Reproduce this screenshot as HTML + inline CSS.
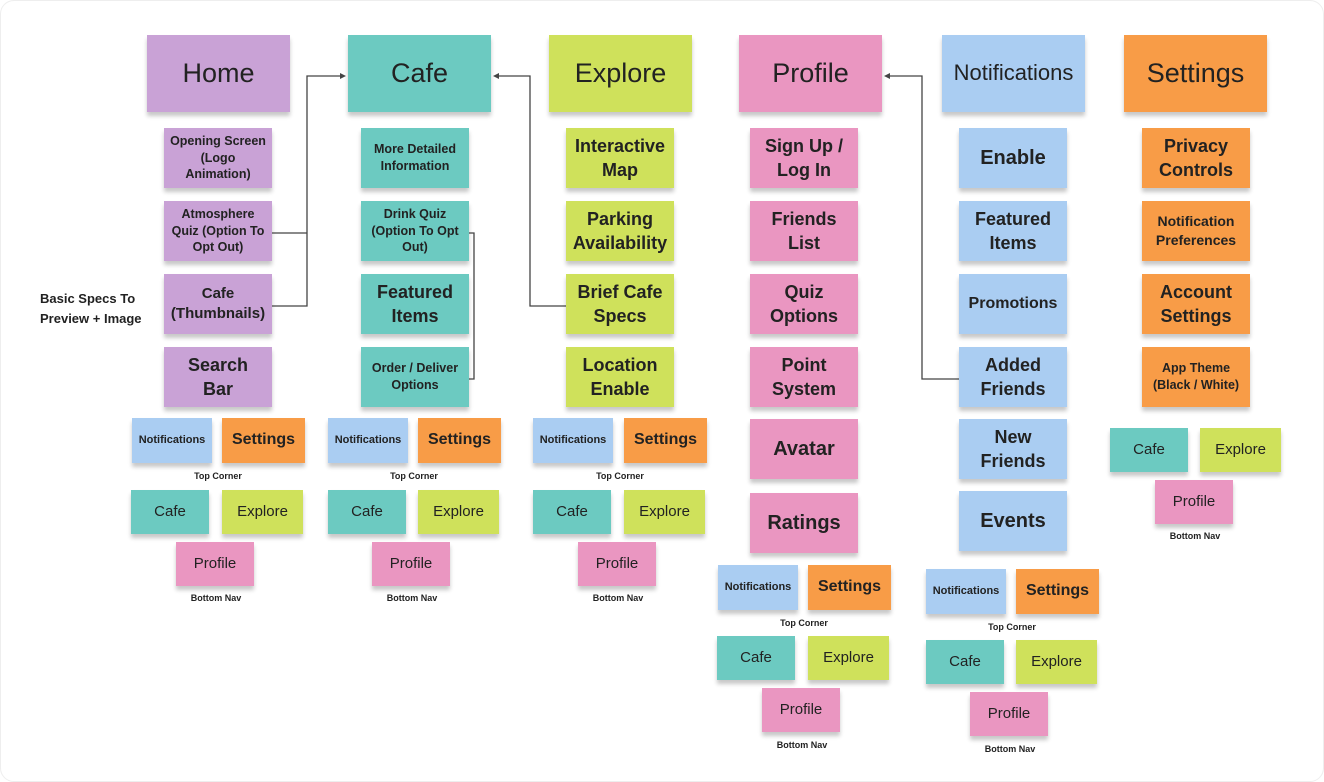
<!DOCTYPE html>
<html><head><meta charset="utf-8"><style>
body{margin:0;width:1324px;height:782px;background:#fff;position:relative;overflow:hidden;font-family:"Liberation Sans",sans-serif;}
.b{position:absolute;display:flex;align-items:center;justify-content:center;text-align:center;color:#222;box-shadow:0 4px 4px rgba(0,0,0,.22);line-height:1.3;}
.h{width:143px;height:77px;font-size:27px;}
.s{width:108px;height:60px;font-size:18px;font-weight:bold;line-height:1.35;}
.sm{font-size:12.5px;}
.n{font-size:11px;font-weight:bold;width:80px;height:45px;}
.st{font-size:16px;font-weight:bold;width:83px;height:45px;}
.c{font-size:15px;width:78px;height:44px;}
.e{font-size:15px;width:81px;height:44px;}
.p{font-size:15px;width:78px;height:44px;}
.P{background:#c9a2d6}.T{background:#6ccac1}.G{background:#cfe15b}.K{background:#ea96c1}.B{background:#aacdf2}.O{background:#f89c47}
.l{position:absolute;font-size:9px;font-weight:bold;color:#222;width:100px;text-align:center;}
</style></head><body>
<div style="position:absolute;left:0;top:0;width:1322px;height:780px;border:1px solid #eee;border-radius:14px"></div>
<svg width="1324" height="782" style="position:absolute;left:0;top:0">
<g stroke="#444" stroke-width="1.3" fill="none">
<path d="M272 233H307M272 306H307V76H342"/>
<path d="M469 233H474V379H469"/>
<path d="M566 306H530V76H497"/>
<path d="M959 379H922V76H888"/>
</g>
<g fill="#444"><path d="M346 76l-6-3v6z"/><path d="M493 76l6-3v6z"/><path d="M884 76l6-3v6z"/></g>
</svg>
<div class="b h P" style="left:147px;top:35px">Home</div>
<div class="b h T" style="left:348px;top:35px">Cafe</div>
<div class="b h G" style="left:549px;top:35px">Explore</div>
<div class="b h K" style="left:739px;top:35px">Profile</div>
<div class="b h B" style="left:942px;top:35px;font-size:22px">Notifications</div>
<div class="b h O" style="left:1124px;top:35px">Settings</div>

<div class="b s sm P" style="left:164px;top:128px">Opening Screen<br>(Logo<br>Animation)</div>
<div class="b s sm P" style="left:164px;top:201px">Atmosphere<br>Quiz (Option To<br>Opt Out)</div>
<div class="b s P" style="left:164px;top:274px;font-size:15px">Cafe<br>(Thumbnails)</div>
<div class="b s P" style="left:164px;top:347px">Search<br>Bar</div>
<div style="position:absolute;left:40px;top:289px;font-size:13px;font-weight:bold;line-height:1.5;color:#222">Basic Specs To<br>Preview + Image</div>

<div class="b s sm T" style="left:361px;top:128px">More Detailed<br>Information</div>
<div class="b s sm T" style="left:361px;top:201px">Drink Quiz<br>(Option To Opt<br>Out)</div>
<div class="b s T" style="left:361px;top:274px">Featured<br>Items</div>
<div class="b s sm T" style="left:361px;top:347px">Order / Deliver<br>Options</div>

<div class="b s G" style="left:566px;top:128px">Interactive<br>Map</div>
<div class="b s G" style="left:566px;top:201px">Parking<br>Availability</div>
<div class="b s G" style="left:566px;top:274px">Brief Cafe<br>Specs</div>
<div class="b s G" style="left:566px;top:347px">Location<br>Enable</div>

<div class="b s K" style="left:750px;top:128px">Sign Up /<br>Log In</div>
<div class="b s K" style="left:750px;top:201px">Friends<br>List</div>
<div class="b s K" style="left:750px;top:274px">Quiz<br>Options</div>
<div class="b s K" style="left:750px;top:347px">Point<br>System</div>
<div class="b s K" style="left:750px;top:419px;font-size:20px">Avatar</div>
<div class="b s K" style="left:750px;top:493px;font-size:20px">Ratings</div>

<div class="b s B" style="left:959px;top:128px;font-size:20px">Enable</div>
<div class="b s B" style="left:959px;top:201px">Featured<br>Items</div>
<div class="b s B" style="left:959px;top:274px;font-size:16px">Promotions</div>
<div class="b s B" style="left:959px;top:347px">Added<br>Friends</div>
<div class="b s B" style="left:959px;top:419px">New<br>Friends</div>
<div class="b s B" style="left:959px;top:491px;font-size:20px">Events</div>

<div class="b s O" style="left:1142px;top:128px">Privacy<br>Controls</div>
<div class="b s sm O" style="left:1142px;top:201px;font-size:14px">Notification<br>Preferences</div>
<div class="b s O" style="left:1142px;top:274px">Account<br>Settings</div>
<div class="b s sm O" style="left:1142px;top:347px">App Theme<br>(Black / White)</div>

<div class="b n B" style="left:132px;top:418px">Notifications</div>
<div class="b st O" style="left:222px;top:418px">Settings</div>
<div class="l" style="left:168px;top:471px">Top Corner</div>
<div class="b c T" style="left:131px;top:490px">Cafe</div>
<div class="b e G" style="left:222px;top:490px">Explore</div>
<div class="b p K" style="left:176px;top:542px">Profile</div>
<div class="l" style="left:166px;top:593px">Bottom Nav</div>

<div class="b n B" style="left:328px;top:418px">Notifications</div>
<div class="b st O" style="left:418px;top:418px">Settings</div>
<div class="l" style="left:364px;top:471px">Top Corner</div>
<div class="b c T" style="left:328px;top:490px">Cafe</div>
<div class="b e G" style="left:418px;top:490px">Explore</div>
<div class="b p K" style="left:372px;top:542px">Profile</div>
<div class="l" style="left:362px;top:593px">Bottom Nav</div>

<div class="b n B" style="left:533px;top:418px">Notifications</div>
<div class="b st O" style="left:624px;top:418px">Settings</div>
<div class="l" style="left:570px;top:471px">Top Corner</div>
<div class="b c T" style="left:533px;top:490px">Cafe</div>
<div class="b e G" style="left:624px;top:490px">Explore</div>
<div class="b p K" style="left:578px;top:542px">Profile</div>
<div class="l" style="left:568px;top:593px">Bottom Nav</div>

<div class="b n B" style="left:718px;top:565px">Notifications</div>
<div class="b st O" style="left:808px;top:565px">Settings</div>
<div class="l" style="left:754px;top:618px">Top Corner</div>
<div class="b c T" style="left:717px;top:636px">Cafe</div>
<div class="b e G" style="left:808px;top:636px">Explore</div>
<div class="b p K" style="left:762px;top:688px">Profile</div>
<div class="l" style="left:752px;top:740px">Bottom Nav</div>

<div class="b n B" style="left:926px;top:569px">Notifications</div>
<div class="b st O" style="left:1016px;top:569px">Settings</div>
<div class="l" style="left:962px;top:622px">Top Corner</div>
<div class="b c T" style="left:926px;top:640px">Cafe</div>
<div class="b e G" style="left:1016px;top:640px">Explore</div>
<div class="b p K" style="left:970px;top:692px">Profile</div>
<div class="l" style="left:960px;top:744px">Bottom Nav</div>

<div class="b c T" style="left:1110px;top:428px">Cafe</div>
<div class="b e G" style="left:1200px;top:428px">Explore</div>
<div class="b p K" style="left:1155px;top:480px">Profile</div>
<div class="l" style="left:1145px;top:531px">Bottom Nav</div>
</body></html>
